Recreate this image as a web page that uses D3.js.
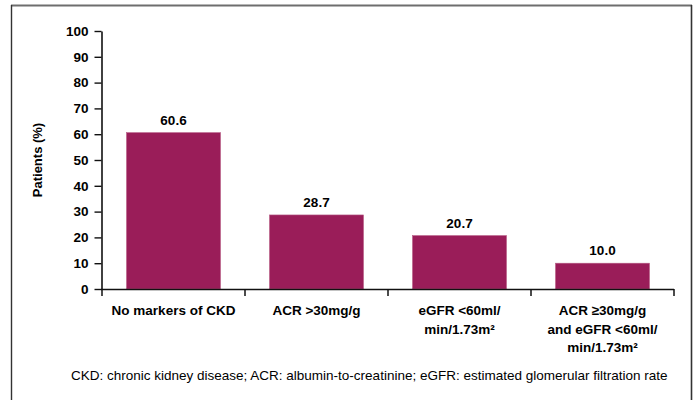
<!DOCTYPE html>
<html>
<head>
<meta charset="utf-8">
<script src="https://cdn.jsdelivr.net/npm/d3@7"></script>
<style>
  html, body { margin: 0; padding: 0; background: #fff; }
  svg { display: block; }
  text { font-family: "Liberation Sans", Arial, sans-serif; fill: #000; }
</style>
</head>
<body>
<svg id="chart" width="696" height="400"></svg>
<script>
// Share of patients by CKD marker group
const categories = [
  ["No markers of CKD"],
  ["ACR >30mg/g"],
  ["eGFR <60ml/", "min/1.73m²"],
  ["ACR ≥30mg/g", "and eGFR <60ml/", "min/1.73m²"]
];
const values = [60.6, 28.7, 20.7, 10.0];
const valueLabels = ["60.6", "28.7", "20.7", "10.0"];
const yTicks = [0, 10, 20, 30, 40, 50, 60, 70, 80, 90, 100];
const yTitle = "Patients (%)";
const footnote = "CKD: chronic kidney disease; ACR: albumin-to-creatinine; eGFR: estimated glomerular filtration rate";

const svg = d3.select("#chart");
const barColor = "#9a1d59";

// outer frame
const frame = svg.append("g");
frame.append("line").attr("x1", 11).attr("x2", 692).attr("y1", 5.5).attr("y2", 5.5)
  .attr("stroke", "#6e6e6e").attr("stroke-width", 2.2);
frame.append("line").attr("x1", 11.5).attr("x2", 11.5).attr("y1", 5).attr("y2", 400)
  .attr("stroke", "#333").attr("stroke-width", 1.4);
frame.append("line").attr("x1", 691.5).attr("x2", 691.5).attr("y1", 5).attr("y2", 400)
  .attr("stroke", "#333").attr("stroke-width", 1.6);

const keys = categories.map((c, i) => i);
const x = d3.scaleBand().domain(keys).range([102, 674]).paddingInner(0.343).paddingOuter(0.1715);
const y = d3.scaleLinear().domain([0, 100]).range([289, 31]);

// bars
svg.append("g").selectAll("rect").data(values).join("rect")
  .attr("x", (d, i) => x(i))
  .attr("y", d => y(d))
  .attr("width", x.bandwidth())
  .attr("height", d => y(0) - y(d))
  .attr("fill", barColor)
  .attr("stroke", "#b65a84")
  .attr("stroke-width", 0.6);

// value labels
svg.append("g").selectAll("text").data(values).join("text")
  .attr("x", (d, i) => x(i) + x.bandwidth() / 2)
  .attr("y", d => y(d) - 8)
  .attr("text-anchor", "middle")
  .attr("font-size", 13.5)
  .attr("font-weight", "bold")
  .text((d, i) => valueLabels[i]);

// y axis
const yAxis = svg.append("g").attr("transform", "translate(101.5,0)")
  .call(d3.axisLeft(y).tickValues(yTicks).tickSize(7).tickPadding(6).tickSizeOuter(0));
yAxis.select(".domain").attr("stroke", "#111").attr("stroke-width", 1.6);
yAxis.selectAll(".tick line").attr("stroke", "#111").attr("stroke-width", 1.4);
yAxis.selectAll(".tick text")
  .attr("font-family", "'Liberation Sans', Arial, sans-serif")
  .attr("font-size", 13.5).attr("font-weight", "bold").attr("fill", "#000");

// x axis line with boundary ticks
const xg = svg.append("g");
const x0 = x.range()[0], step = x.step();
xg.append("line").attr("x1", 101).attr("x2", x.range()[1]).attr("y1", y(0) + 0.5).attr("y2", y(0) + 0.5)
  .attr("stroke", "#111").attr("stroke-width", 1.6);
xg.selectAll("line.tk").data(d3.range(categories.length + 1)).join("line")
  .attr("class", "tk")
  .attr("x1", i => x0 + i * step).attr("x2", i => x0 + i * step)
  .attr("y1", y(0)).attr("y2", y(0) + 7)
  .attr("stroke", "#111").attr("stroke-width", 1.5);

// category labels
const lab = xg.selectAll("text.cat").data(categories).join("text")
  .attr("class", "cat")
  .attr("text-anchor", "middle")
  .attr("font-size", 13.5)
  .attr("font-weight", "bold");
lab.selectAll("tspan").data((d, i) => d.map(t => ({ t, i }))).join("tspan")
  .attr("x", d => x(d.i) + x.bandwidth() / 2)
  .attr("y", (d, j) => 315 + j * 18.5)
  .text(d => d.t);

// y axis title
svg.append("text")
  .attr("transform", `translate(42,${(y(0) + y(100)) / 2}) rotate(-90)`)
  .attr("text-anchor", "middle")
  .attr("font-size", 13)
  .attr("font-weight", "bold")
  .text(yTitle);

// footnote
svg.append("text")
  .attr("x", 71)
  .attr("y", 380)
  .attr("font-size", 13.5)
  .text(footnote);
</script>
</body>
</html>
